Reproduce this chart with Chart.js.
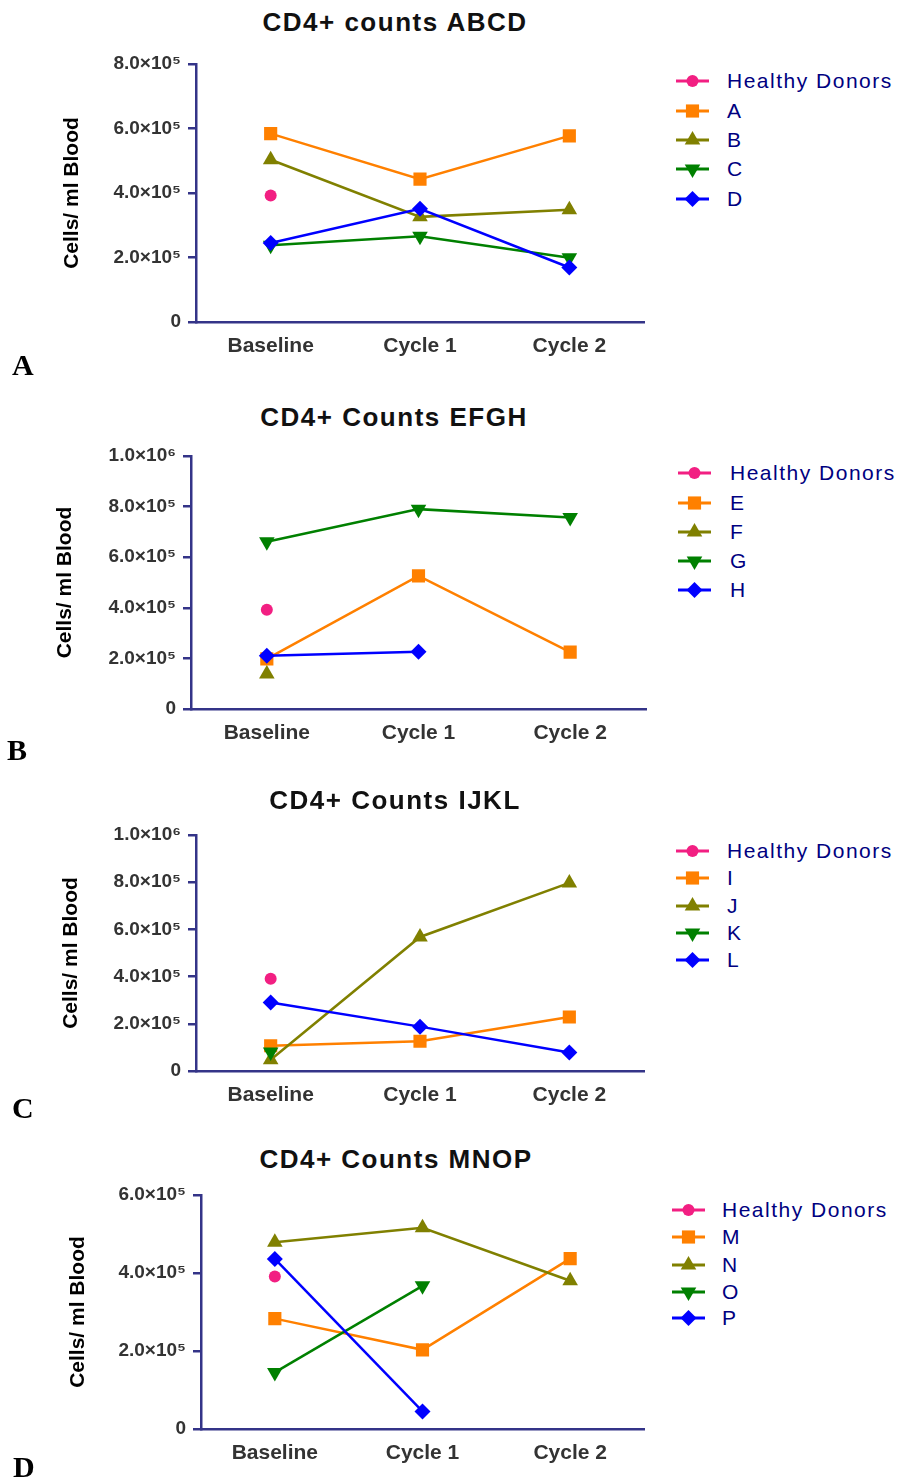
<!DOCTYPE html>
<html>
<head>
<meta charset="utf-8">
<script src="https://cdn.jsdelivr.net/npm/chart.js@4.4.1/dist/chart.umd.min.js"></script>
<style>
    body { margin: 0; background: #fff; }
    #pagina { position: relative; width: 901px; height: 1481px; overflow: hidden; background: #fff; font-family: "Liberation Sans", Arial, sans-serif; }
    #pagina canvas { position: absolute; left: 0; }
    .titulo { position: absolute; font-weight: bold; font-size: 26px; letter-spacing: 1.5px; color: #111; white-space: nowrap; transform: translate(-50%, -50%); }
    .letra { position: absolute; font-family: "Liberation Serif", "Times New Roman", serif; font-weight: bold; font-size: 30px; line-height: 1; color: #000; transform: translateY(-50%); }
    .fila { position: absolute; height: 24px; transform: translateY(-50%); white-space: nowrap; }
    .fila svg { position: absolute; left: 0; top: 2px; }
    .fila span { position: absolute; top: 0; line-height: 24px; color: #000080; font-size: 21px; letter-spacing: 1.5px; }
</style>
</head>
<body>
<div id="pagina"></div>
<script>
const categorias = ['Baseline', 'Cycle 1', 'Cycle 2'];

// donantes sanos, solo medidos al inicio
const sanosABCD = [392000, null, null];
const sanosEFGH = [392000, null, null];
const sanosIJKL = [391000, null, null];
const sanosMNOP = [391000, null, null];

// pacientes (células CD4+/ml)
const pacA = [584000, 443000, 577000];
const pacB = [503000, 326000, 348000];
const pacC = [238000, 266000, 199000];
const pacD = [245000, 351000, 169000];

const pacE = [198000, 526000, 225000];
const pacF = [138000, null, null];
const pacG = [661000, 790000, 757000];
const pacH = [210000, 226000, null];

const pacI = [107000, 126000, 229000];
const pacJ = [48000, 568000, 797000];
const pacK = [81000, null, null];
const pacL = [290000, 188000, 78000];

const pacM = [283000, 203000, 437000];
const pacN = [479000, 516000, 380000];
const pacO = [145000, 367000, null];
const pacP = [436000, 45000, null];

const ticks8 = ['0', '2.0×10⁵', '4.0×10⁵', '6.0×10⁵', '8.0×10⁵'];
const ticks10 = ['0', '2.0×10⁵', '4.0×10⁵', '6.0×10⁵', '8.0×10⁵', '1.0×10⁶'];
const ticks6 = ['0', '2.0×10⁵', '4.0×10⁵', '6.0×10⁵'];

const AZUL_EJE = '#343488';
const ANCHO = 660;

// color y marcador de cada posición de serie
const estilos = [
    { color: '#F21F82', forma: 'circle', radio: 6, rot: 0 },
    { color: '#FF8000', forma: 'rect', radio: 9.3, rot: 0 },
    { color: '#808000', forma: 'triangle', radio: 9, rot: 0 },
    { color: '#008000', forma: 'triangle', radio: 9, rot: 180 },
    { color: '#0000FF', forma: 'rectRot', radio: 8, rot: 0 }
];

const paneles = [
    { titulo: 'CD4+ counts ABCD', letra: 'A', nombres: ['Healthy Donors', 'A', 'B', 'C', 'D'],
      series: [sanosABCD, pacA, pacB, pacC, pacD], max: 800000, ticks: ticks8,
      plotTop: 64, plotBottom: 322, ejeX: 196, derecha: 644, tituloYX: 72,
      tituloX: 395, tituloY: 22, letraX: 12, letraY: 365,
      leyX: 676, leyTexto: 727, leyFilas: [81, 111, 140, 169, 199] },
    { titulo: 'CD4+ Counts EFGH', letra: 'B', nombres: ['Healthy Donors', 'E', 'F', 'G', 'H'],
      series: [sanosEFGH, pacE, pacF, pacG, pacH], max: 1000000, ticks: ticks10,
      plotTop: 456, plotBottom: 709, ejeX: 191, derecha: 646, tituloYX: 65,
      tituloX: 394, tituloY: 417, letraX: 7, letraY: 750,
      leyX: 678, leyTexto: 730, leyFilas: [473, 503, 532, 561, 590] },
    { titulo: 'CD4+ Counts IJKL', letra: 'C', nombres: ['Healthy Donors', 'I', 'J', 'K', 'L'],
      series: [sanosIJKL, pacI, pacJ, pacK, pacL], max: 1000000, ticks: ticks10,
      plotTop: 835, plotBottom: 1071, ejeX: 196, derecha: 644, tituloYX: 71,
      tituloX: 395, tituloY: 800, letraX: 12, letraY: 1108,
      leyX: 676, leyTexto: 727, leyFilas: [851, 878, 906, 933, 960] },
    { titulo: 'CD4+ Counts MNOP', letra: 'D', nombres: ['Healthy Donors', 'M', 'N', 'O', 'P'],
      series: [sanosMNOP, pacM, pacN, pacO, pacP], max: 600000, ticks: ticks6,
      plotTop: 1195, plotBottom: 1429, ejeX: 201, derecha: 644, tituloYX: 78,
      tituloX: 396, tituloY: 1159, letraX: 13, letraY: 1467,
      leyX: 672, leyTexto: 722, leyFilas: [1210, 1237, 1265, 1292, 1318] }
];

Chart.defaults.font.family = '"Liberation Sans", Arial, sans-serif';

const pagina = document.getElementById('pagina');

const agregarTexto = (clase, texto, x, y) => {
    const div = document.createElement('div');
    div.className = clase;
    div.textContent = texto;
    div.style.left = x + 'px';
    div.style.top = y + 'px';
    pagina.appendChild(div);
};

const marcadorSVG = (e, cx, cy) => {
    const r = e.radio;
    if (e.forma === 'circle') return `<circle cx="${cx}" cy="${cy}" r="${r}" fill="${e.color}"/>`;
    if (e.forma === 'rect') {
        const s = r * Math.SQRT1_2;
        return `<rect x="${cx - s}" y="${cy - s}" width="${2 * s}" height="${2 * s}" fill="${e.color}"/>`;
    }
    if (e.forma === 'rectRot') {
        return `<polygon points="${cx - r},${cy} ${cx},${cy - r} ${cx + r},${cy} ${cx},${cy + r}" fill="${e.color}"/>`;
    }
    const dir = e.rot === 180 ? -1 : 1;
    const w = r * 0.866;
    return `<polygon points="${cx},${cy - dir * r} ${cx + w},${cy + dir * r / 2} ${cx - w},${cy + dir * r / 2}" fill="${e.color}"/>`;
};

const crearLeyenda = (p) => {
    p.nombres.forEach((nombre, i) => {
        const e = estilos[i];
        const fila = document.createElement('div');
        fila.className = 'fila';
        fila.style.left = p.leyX + 'px';
        fila.style.top = p.leyFilas[i] + 'px';
        fila.innerHTML = `<svg width="40" height="20"><line x1="0" y1="10" x2="33" y2="10" stroke="${e.color}" stroke-width="3"/>${marcadorSVG(e, 16.5, 10)}</svg>`;
        const span = document.createElement('span');
        span.style.left = (p.leyTexto - p.leyX) + 'px';
        span.textContent = nombre;
        fila.appendChild(span);
        pagina.appendChild(fila);
    });
};

const crearPanel = (p) => {
    const top = p.plotTop - 20;
    const alto = p.plotBottom - top + 40;
    const izq = p.tituloYX - 16.6;

    const canvas = document.createElement('canvas');
    canvas.width = ANCHO;
    canvas.height = alto;
    canvas.style.top = top + 'px';
    canvas.style.width = ANCHO + 'px';
    canvas.style.height = alto + 'px';
    pagina.appendChild(canvas);

    const datasets = p.series.map((valores, i) => {
        const e = estilos[i];
        return {
            label: p.nombres[i],
            data: valores,
            borderColor: e.color,
            backgroundColor: e.color,
            borderWidth: 2.5,
            pointStyle: e.forma,
            pointRadius: e.radio,
            pointRotation: e.rot,
            pointBorderWidth: 0,
            showLine: i > 0,
            spanGaps: false,
            tension: 0,
            order: p.series.length - i
        };
    });

    new Chart(canvas, {
        type: 'line',
        data: { labels: categorias, datasets },
        options: {
            responsive: false,
            animation: false,
            devicePixelRatio: 1,
            layout: { padding: { top: p.plotTop - top, left: izq, right: ANCHO - p.derecha, bottom: 0 } },
            plugins: { legend: { display: false }, tooltip: { enabled: false } },
            scales: {
                x: {
                    offset: true,
                    grid: { display: false },
                    border: { display: true, color: AZUL_EJE, width: 2.5 },
                    ticks: { color: '#333', padding: 4, font: { size: 21, weight: 'bold' } },
                    afterFit: (s) => { s.height = alto - (p.plotBottom - top); }
                },
                y: {
                    min: 0,
                    max: p.max,
                    grid: { drawOnChartArea: false, drawTicks: true, tickLength: 8, color: AZUL_EJE, lineWidth: 2.5 },
                    border: { display: true, color: AZUL_EJE, width: 2.5 },
                    ticks: {
                        stepSize: 200000,
                        padding: 7,
                        color: '#333',
                        font: { size: 19, weight: 'bold' },
                        callback: (v, i) => p.ticks[i]
                    },
                    title: {
                        display: true,
                        text: 'Cells/ ml Blood',
                        color: '#000',
                        font: { size: 21, weight: 'bold' },
                        padding: { top: 4, bottom: 0 }
                    },
                    afterFit: (s) => { s.width = p.ejeX - izq; }
                }
            }
        }
    });

    agregarTexto('titulo', p.titulo, p.tituloX, p.tituloY);
    agregarTexto('letra', p.letra, p.letraX, p.letraY);
    crearLeyenda(p);
};

paneles.forEach(crearPanel);
</script>
</body>
</html>
